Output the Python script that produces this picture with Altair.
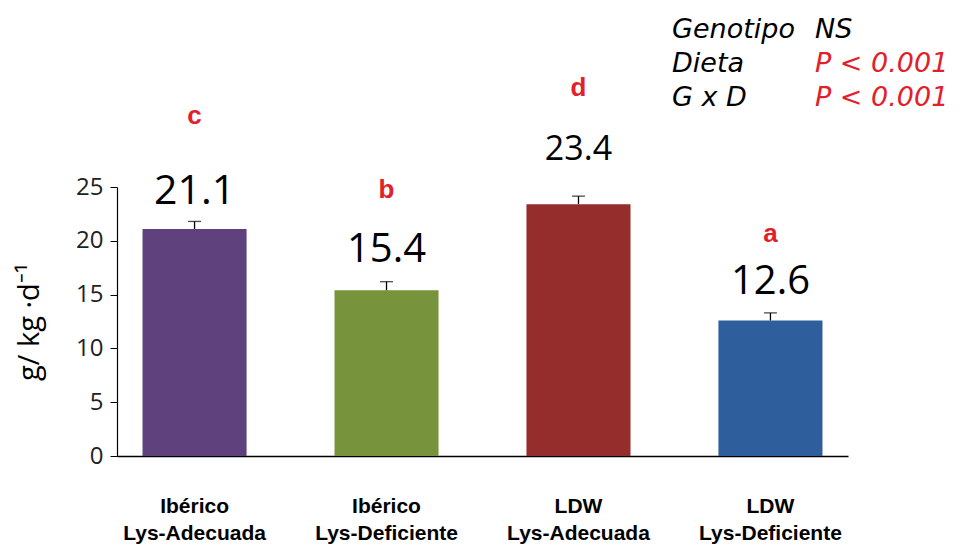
import altair as alt
import pandas as pd

groups = ["Ibérico\nLys-Adecuada", "Ibérico\nLys-Deficiente", "LDW\nLys-Adecuada", "LDW\nLys-Deficiente"]
values = [21.1, 15.4, 23.4, 12.6]
errors = [0.7, 0.8, 0.75, 0.7]
letters = ["c", "b", "d", "a"]
colors = ["#5E417D", "#77933C", "#962D2D", "#2E5F9C"]
# annotation heights in data units (placement of labels above bars)
value_label_y = [24.5, 19.1, 28.4, 16.2]
letter_y = [31.6, 24.7, 34.2, 20.6]
value_label_size = [41, 40, 34, 40]

df = pd.DataFrame({
    "group": groups,
    "value": values,
    "err": errors,
    "top": [v + e for v, e in zip(values, errors)],
    "letter": letters,
    "label": [f"{v:.1f}" for v in values],
    "label_y": value_label_y,
    "letter_y": letter_y,
    "lsize": value_label_size,
})

x_enc = alt.X(
    "group:N",
    sort=groups,
    title=None,
    scale=alt.Scale(paddingInner=0.458, paddingOuter=0.133),
    axis=alt.Axis(
        labelExpr="split(datum.label, '\\n')",
        labelAngle=0,
        labelFont="Liberation Sans",
        labelFontWeight="bold",
        labelFontSize=21,
        labelColor="#000000",
        labelLineHeight=27,
        labelPadding=39,
        ticks=False,
        domainColor="#000000",
        domainWidth=1.5,
    ),
)

y_scale = alt.Scale(domain=[0, 25], nice=False)

base = alt.Chart(df)

bars = base.mark_bar().encode(
    x=x_enc,
    y=alt.Y(
        "value:Q",
        scale=y_scale,
        title="g/ kg ·d⁻¹",
        axis=alt.Axis(
            values=[0, 5, 10, 15, 20, 25],
            grid=False,
            labelFont="Open Sans",
            labelFontSize=24,
            labelColor="#222222",
            labelPadding=7,
            tickSize=7,
            tickColor="#000000",
            domainColor="#000000",
            domainWidth=1.2,
            titleFont="Open Sans",
            titleFontSize=29,
            titleFontWeight="normal",
            titleColor="#000000",
            titlePadding=31,
        ),
    ),
    color=alt.Color("group:N", scale=alt.Scale(domain=groups, range=colors), legend=None),
)

err_rule = base.mark_rule(color="#000000", strokeWidth=1.3).encode(
    x=alt.X("group:N", sort=groups),
    y=alt.Y("value:Q", scale=y_scale),
    y2="top:Q",
)
err_cap = base.mark_tick(color="#000000", thickness=1.3, size=13, orient="horizontal").encode(
    x=alt.X("group:N", sort=groups),
    y=alt.Y("top:Q", scale=y_scale),
)

value_text = base.mark_text(font="Open Sans", color="#000000", baseline="middle").encode(
    x=alt.X("group:N", sort=groups),
    y=alt.Y("label_y:Q", scale=y_scale),
    text="label:N",
    size=alt.Size("lsize:Q", scale=None, legend=None),
)

letter_text = base.mark_text(font="Liberation Sans", fontWeight="bold", fontSize=26,
                             color="#E3202A", baseline="middle").encode(
    x=alt.X("group:N", sort=groups),
    y=alt.Y("letter_y:Q", scale=y_scale),
    text="letter:N",
)

ann_left = ["Genotipo", "Dieta", "G x D"]
ann_right_black = ["NS"]
ann_right_red = ["", "P < 0.001", "P < 0.001"]

one = alt.Data(values=[{"k": 1}])
ann_style = dict(font="DejaVu Sans", fontStyle="italic", fontSize=27,
                 align="left", baseline="middle", lineHeight=34)
ann1 = alt.Chart(one).mark_text(text=ann_left, color="#000000", **ann_style).encode(
    x=alt.value(555), y=alt.value(-157))
ann2 = alt.Chart(one).mark_text(text=ann_right_black, color="#000000", **ann_style).encode(
    x=alt.value(698), y=alt.value(-157))
ann3 = alt.Chart(one).mark_text(text=ann_right_red, color="#E3202A", **ann_style).encode(
    x=alt.value(698), y=alt.value(-157))

chart = alt.layer(bars, err_rule, err_cap, value_text, letter_text, ann1, ann2, ann3).properties(
    width=731,
    height=269,
    background="#ffffff",
    autosize=alt.AutoSizeParams(type="none"),
    padding={"left": 109, "top": 179, "right": 124, "bottom": 96},
).configure_view(stroke=None)

chart.save("out.html", embed_options={"renderer": "svg", "actions": False})
